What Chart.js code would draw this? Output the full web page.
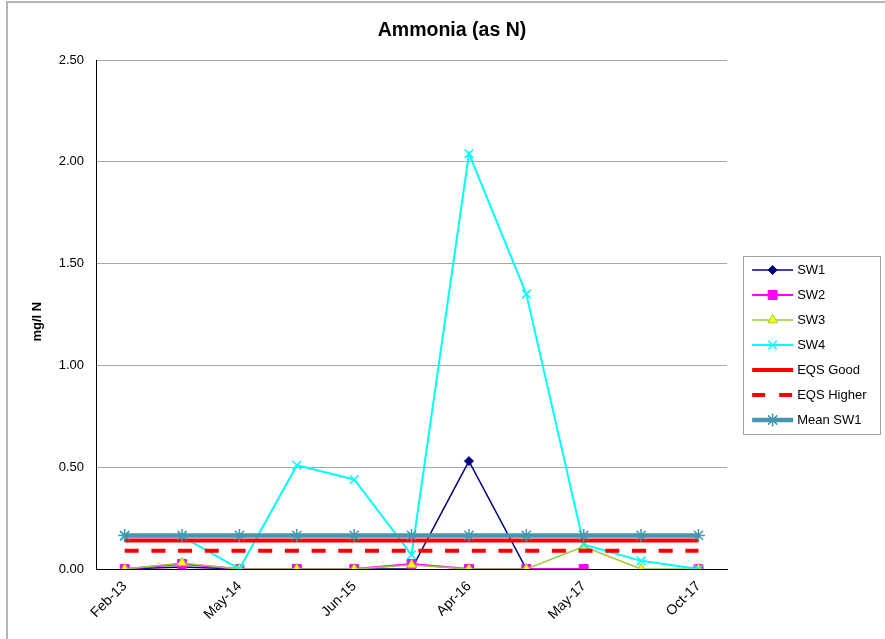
<!DOCTYPE html>
<html><head><meta charset="utf-8">
<script src="https://cdn.jsdelivr.net/npm/chart.js@4.4.0/dist/chart.umd.min.js"></script>
<style>
html,body{margin:0;padding:0;background:#fff;}
#wrap{position:relative;width:885px;height:639px;overflow:hidden;}
#frame{position:absolute;left:6px;top:1px;width:900px;height:700px;border-left:2px solid #b4b4b4;border-top:2px solid #b4b4b4;}
canvas{position:absolute;left:0;top:0;}
</style></head><body>
<div id="wrap"><div id="frame"></div><canvas id="c" width="885" height="639"></canvas></div>
<script>
// ---- data ----
const categories = ['Feb-13','Oct-13','May-14','Nov-14','Jun-15','Dec-15','Apr-16','Oct-16','May-17','Aug-17','Oct-17'];
const sw1 = [0, 0.01, 0, 0, 0, 0, 0.53, 0, null, null, null];
const sw2 = [0, 0.025, 0, 0, 0, 0.025, 0, 0, 0, null, 0];
const sw3 = [0, 0.03, 0, 0, 0, 0.02, 0, 0, 0.11, 0, 0];
const sw4 = [0.16, 0.16, 0, 0.51, 0.44, 0.07, 2.04, 1.35, 0.12, 0.04, 0];
const eqsGood = [0.14, 0.14, 0.14, 0.14, 0.14, 0.14, 0.14, 0.14, 0.14, 0.14, 0.14];
const eqsHigher = [0.09, 0.09, 0.09, 0.09, 0.09, 0.09, 0.09, 0.09, 0.09, 0.09, 0.09];
const meanSW1 = [0.165, 0.165, 0.165, 0.165, 0.165, 0.165, 0.165, 0.165, 0.165, 0.165, 0.165];
const seriesNames = ['SW1','SW2','SW3','SW4','EQS Good','EQS Higher','Mean SW1'];
const yTicks = { min: 0, max: 2.5, step: 0.5 };

Chart.defaults.font.family = '"Liberation Sans", Arial, sans-serif';
Chart.defaults.color = '#000';

const LEG_DX = -8.5, LEG_DY = 25.5, LEG_BOXW = 60, LEG_FS = 13;

const legendDecor = {
  id: 'legendDecor',
  afterLayout(chart) {
    const lg = chart.legend;
    lg.left += LEG_DX; lg.right += LEG_DX; lg.top += LEG_DY; lg.bottom += LEG_DY;
  },
  afterDraw(chart) {
    const lg = chart.legend, ctx = chart.ctx, hbs = lg.legendHitBoxes;
    if (!hbs || !hbs.length) return;
    let minY = Infinity, maxY = -Infinity, tx0 = 0;
    hbs.forEach((hb, i) => {
      const ds = chart.data.datasets[lg.legendItems[i].datasetIndex];
      const tx = hb.left + LEG_BOXW + LEG_FS / 2;
      tx0 = tx;
      const y = hb.top + hb.height / 2;
      minY = Math.min(minY, hb.top); maxY = Math.max(maxY, hb.top + hb.height);
      ctx.save();
      ctx.strokeStyle = ds.borderColor;
      ctx.lineWidth = ds.borderWidth;
      ctx.setLineDash(ds.legendDash || []);
      ctx.beginPath(); ctx.moveTo(tx - 45, y); ctx.lineTo(tx - 4, y); ctx.stroke();
      ctx.restore();
      if (ds.pointRadius > 0) {
        ctx.save();
        ctx.fillStyle = ds.pointBackgroundColor;
        ctx.strokeStyle = ds.pointBorderColor;
        ctx.lineWidth = ds.pointBorderWidth;
        Chart.helpers.drawPoint(ctx, {pointStyle: ds.pointStyle, radius: ds.pointRadius, borderWidth: ds.pointBorderWidth, rotation: 0}, tx - 24.5, y);
        ctx.restore();
      }
    });
    ctx.save();
    ctx.strokeStyle = '#a0a0a0'; ctx.lineWidth = 1;
    ctx.strokeRect(Math.round(tx0 - 54) + 0.5, Math.round(minY - 8) + 0.5, 137, Math.round(maxY - minY + 15));
    ctx.restore();
  }
};

const lineDs = (label, data, color, width, style, radius, fill, order, extra) => Object.assign({
  label, data, borderColor: color, backgroundColor: color, borderWidth: width,
  pointStyle: style, pointRadius: radius, pointBackgroundColor: fill, pointBorderColor: color,
  pointBorderWidth: 1, tension: 0, spanGaps: false, order
}, extra || {});

new Chart(document.getElementById('c'), {
  type: 'line',
  data: {
    labels: categories,
    datasets: [
      lineDs(seriesNames[0], sw1, '#000080', 1.5, 'rectRot', 4.5, '#000080', 7),
      lineDs(seriesNames[1], sw2, '#ff00ff', 2, 'rect', 6.3, '#ff00ff', 6),
      lineDs(seriesNames[2], sw3, '#99cc33', 1.5, 'triangle', 5.5, '#ffff00', 5),
      lineDs(seriesNames[3], sw4, '#00ffff', 2, 'crossRot', 6, '#00ffff', 4, {pointBorderWidth: 1.5}),
      lineDs(seriesNames[4], eqsGood, '#ff0000', 4, 'circle', 0, '#ff0000', 3),
      lineDs(seriesNames[5], eqsHigher, '#ff0000', 4, 'circle', 0, '#ff0000', 2, {borderDash: [14, 12.7], legendDash: [13, 14]}),
      lineDs(seriesNames[6], meanSW1, '#4597b0', 4.5, 'star', 6.5, '#4597b0', 1, {pointBorderWidth: 1.5})
    ]
  },
  options: {
    responsive: false,
    animation: false,
    events: [],
    layout: { padding: { left: 19, right: 0, top: 0, bottom: 0 } },
    plugins: {
      title: { display: true, text: 'Ammonia (as N)', font: { size: 19.5, weight: 'bold' }, color: '#000', padding: { top: 19.3, bottom: 17.3 } },
      legend: {
        position: 'right',
        labels: {
          boxWidth: LEG_BOXW, boxHeight: 13, padding: 12, font: { size: LEG_FS }, color: '#000',
          generateLabels(chart) {
            const items = Chart.defaults.plugins.legend.labels.generateLabels(chart);
            items.sort((a, b) => a.datasetIndex - b.datasetIndex);
            items.forEach(it => { it.fillStyle = 'rgba(0,0,0,0)'; it.strokeStyle = 'rgba(0,0,0,0)'; it.lineWidth = 0; it.lineDash = []; });
            return items;
          }
        }
      },
      tooltip: { enabled: false }
    },
    scales: {
      x: {
        offset: true,
        grid: { display: false },
        border: { display: true, color: '#000', width: 1 },
        ticks: {
          autoSkip: false, maxRotation: 45, minRotation: 45, padding: 1, font: { size: 14 }, color: '#000',
          callback: (v, i) => (i % 2 === 0 ? categories[i] : '')
        },
        afterFit: s => { s.height = 70; }
      },
      y: {
        min: yTicks.min, max: yTicks.max,
        grid: { color: '#a6a6a6', drawTicks: false },
        border: { display: true, color: '#000', width: 1 },
        ticks: { stepSize: yTicks.step, padding: 12, font: { size: 13 }, color: '#000', callback: v => Number(v).toFixed(2) },
        title: { display: true, text: 'mg/l N    ', font: { size: 13, weight: 'bold' }, color: '#000', padding: { top: 11, bottom: 0 } },
        afterFit: s => { s.width = 77; }
      }
    }
  },
  plugins: [legendDecor]
});
</script>
</body></html>
